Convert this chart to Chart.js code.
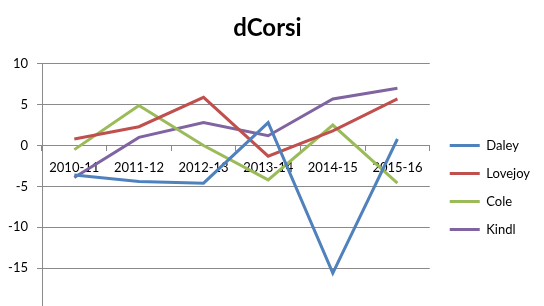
<!DOCTYPE html>
<html>
<head>
<meta charset="utf-8">
<script src="https://cdn.jsdelivr.net/npm/chart.js@4/dist/chart.umd.min.js"></script>
<style>
  html, body { margin: 0; padding: 0; background: #fff; overflow: hidden; }
  #wrap { width: 544px; height: 330px; }
</style>
</head>
<body>
<div id="wrap"><canvas id="c" width="544" height="330"></canvas></div>
<script>
const categories = ['2010-11', '2011-12', '2012-13', '2013-14', '2014-15', '2015-16'];
const daley   = [-3.6, -4.4, -4.6, 2.8, -15.6, 0.8];
const lovejoy = [0.8, 2.3, 5.9, -1.3, 1.8, 5.7];
const cole    = [-0.5, 4.9, 0.0, -4.2, 2.5, -4.6];
const kindl   = [-3.9, 1.0, 2.8, 1.2, 5.7, 7.0];
const yTicks = { min: -20, max: 10, step: 5 };

const FONT = 'Lato, "Open Sans", sans-serif';
const GRID = '#8a8a8a';

function ds(label, data, color) {
  return {
    label, data,
    borderColor: color, backgroundColor: color,
    borderWidth: 3, pointRadius: 0, tension: 0, fill: false
  };
}

// nudge the legend block slightly away from the plot area (Excel-like spacing)
const legendNudge = {
  id: 'legendNudge',
  afterLayout(chart) {
    const lg = chart.legend;
    if (!lg) return;
    lg.left += 5; lg.right += 5;
    lg.top += 1; lg.bottom += 1;
  }
};

new Chart(document.getElementById('c'), {
  type: 'line',
  data: {
    labels: categories,
    datasets: [
      ds('Daley', daley, '#4f81bd'),
      ds('Lovejoy', lovejoy, '#c0504d'),
      ds('Cole', cole, '#9bbb59'),
      ds('Kindl', kindl, '#8064a2')
    ]
  },
  options: {
    responsive: false,
    animation: false,
    layout: { padding: { left: 0, right: 9, top: 10, bottom: 21 } },
    plugins: {
      title: {
        display: true, text: 'dCorsi', color: '#000',
        font: { family: FONT, size: 24, weight: 'bold' },
        padding: { top: 4, bottom: 21 }
      },
      legend: {
        position: 'right', fullSize: false,
        labels: {
          usePointStyle: true, pointStyle: 'line', pointStyleWidth: 30,
          color: '#000', font: { family: FONT, size: 13 }, padding: 15
        }
      },
      tooltip: { enabled: false }
    },
    scales: {
      x: {
        type: 'category',
        position: { y: 0 },
        offset: true,
        grid: { drawOnChartArea: false, drawTicks: true, tickLength: 5, offset: true, color: GRID },
        border: { color: GRID, width: 1 },
        ticks: { color: '#000', font: { family: FONT, size: 13 }, padding: 9, maxRotation: 0 }
      },
      y: {
        min: yTicks.min, max: yTicks.max,
        afterFit(scale) { scale.width = 42; },
        grid: { color: GRID, drawTicks: true, tickLength: 5 },
        border: { color: GRID, width: 1 },
        ticks: {
          stepSize: yTicks.step, color: '#000', font: { family: FONT, size: 13 }, padding: 9,
          callback: (v) => v === yTicks.min ? '' : v
        }
      }
    }
  },
  plugins: [legendNudge]
});
</script>
</body>
</html>
